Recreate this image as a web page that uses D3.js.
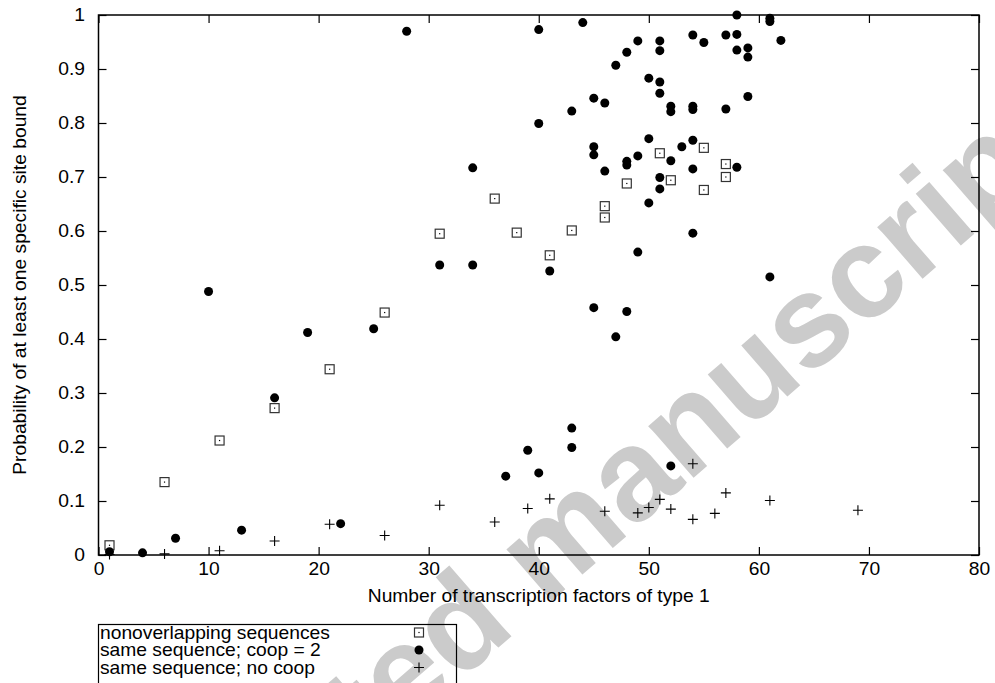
<!DOCTYPE html>
<html>
<head>
<meta charset="utf-8">
<script src="https://cdn.jsdelivr.net/npm/d3@7"></script>
<style>
  body { margin: 0; background: #fff; }
  text { font-family: "Liberation Sans", Arial, sans-serif; }
</style>
</head>
<body>
<div id="chart"></div>
<script>
// series
var nonoverlapX = [1, 6, 11, 16, 21, 26, 31, 36, 38, 41, 43, 46, 46, 48, 51, 52, 55, 55, 57, 57];
var nonoverlapY = [0.018, 0.135, 0.212, 0.272, 0.344, 0.449, 0.595, 0.660, 0.597, 0.555, 0.601, 0.646, 0.625, 0.688, 0.744, 0.694, 0.754, 0.676, 0.724, 0.700];

var coopX = [1, 4, 7, 10, 13, 16, 19, 22, 25, 28, 31, 34, 34, 37, 39, 40, 40, 40, 41, 43, 43, 43,
    44, 45, 45, 45, 45, 46, 46, 47, 47, 48, 48, 48, 48, 49, 49, 49, 50, 50, 50,
    51, 51, 51, 51, 51, 51, 52, 52, 52, 52, 53, 54, 54, 54, 54, 54, 54, 55, 57, 57,
    58, 58, 58, 58, 59, 59, 59, 61, 61, 61, 62];
var coopY = [0.006, 0.004, 0.031, 0.488, 0.046, 0.291, 0.412, 0.058, 0.419, 0.970, 0.537, 0.717, 0.537, 0.146, 0.194, 0.973, 0.799, 0.152, 0.526, 0.822, 0.235, 0.199,
    0.986, 0.846, 0.756, 0.741, 0.458, 0.837, 0.711, 0.907, 0.404, 0.931, 0.729, 0.722, 0.451, 0.952, 0.739, 0.561, 0.883, 0.771, 0.652,
    0.952, 0.934, 0.876, 0.855, 0.699, 0.678, 0.831, 0.821, 0.730, 0.165, 0.756, 0.963, 0.831, 0.825, 0.768, 0.715, 0.596, 0.949, 0.963, 0.826,
    1.0, 0.964, 0.935, 0.718, 0.939, 0.922, 0.849, 0.994, 0.988, 0.515, 0.953];

var nocoopX = [1, 6, 11, 16, 21, 26, 31, 36, 39, 41, 46, 49, 50, 51, 52, 54, 54, 56, 57, 61, 69];
var nocoopY = [0.001, 0.002, 0.008, 0.026, 0.057, 0.036, 0.092, 0.061, 0.086, 0.104, 0.081, 0.078, 0.088, 0.103, 0.085, 0.169, 0.066, 0.077, 0.115, 0.101, 0.083];

var xTicks = [0, 10, 20, 30, 40, 50, 60, 70, 80];
var yTicks = [0, 0.1, 0.2, 0.3, 0.4, 0.5, 0.6, 0.7, 0.8, 0.9, 1];
var legendLabels = ["nonoverlapping sequences", "same sequence; coop = 2", "same sequence; no coop"];

var width = 995, height = 683;
var margin = { left: 98.5, right: 16, top: 15, bottom: 128 };
var fontSize = "17.5px";
var stretch = "scale(1.1,1)";   // the original's lettering is a little wide

var svg = d3.select("#chart").append("svg")
    .attr("width", width)
    .attr("height", height);

// watermark behind everything
var wm = svg.append("g")
    .attr("transform", "translate(545,607) rotate(-41)")
    .attr("fill", "#cbcbcb")
    .style("font-weight", "bold")
    .style("font-size", "130px");
wm.append("text").attr("x", -36).attr("text-anchor", "end").text("Accepted");
wm.append("text").attr("x", 0).text("manuscript");

var x = d3.scaleLinear().domain([0, 80]).range([margin.left, width - margin.right]);
var y = d3.scaleLinear().domain([0, 1]).range([height - margin.bottom, margin.top]);

var fmt = function (d) { return String(+d.toFixed(1)); };

function styleAxis(g) {
    g.select(".domain").remove();
    g.selectAll(".tick line").attr("stroke", "#000").attr("stroke-width", 1.2);
    g.selectAll(".tick text").attr("fill", "#000").style("font-size", fontSize);
}

svg.append("g")
    .attr("transform", "translate(0," + y(0) + ")")
    .call(d3.axisBottom(x).tickValues(xTicks).tickFormat(fmt).tickSize(-8).tickPadding(7.5))
    .call(styleAxis)
    .selectAll(".tick text").attr("transform", stretch);
svg.append("g")
    .attr("transform", "translate(0," + y(1) + ")")
    .call(d3.axisTop(x).tickValues(xTicks).tickFormat("").tickSize(-8))
    .call(styleAxis);
svg.append("g")
    .attr("transform", "translate(" + x(0) + ",0)")
    .call(d3.axisLeft(y).tickValues(yTicks).tickFormat(fmt).tickSize(-8))
    .call(styleAxis)
    .selectAll(".tick text").attr("x", 0).attr("transform", "translate(-13.5,0) " + stretch);
svg.append("g")
    .attr("transform", "translate(" + x(80) + ",0)")
    .call(d3.axisRight(y).tickValues(yTicks).tickFormat("").tickSize(-8))
    .call(styleAxis);

svg.append("rect")
    .attr("x", x(0)).attr("y", y(1))
    .attr("width", x(80) - x(0)).attr("height", y(0) - y(1))
    .attr("fill", "none").attr("stroke", "#000").attr("stroke-width", 1.5);

svg.append("text")
    .attr("transform", "translate(" + (x(0) + x(80)) / 2 + ",602) " + stretch)
    .attr("text-anchor", "middle").style("font-size", fontSize)
    .text("Number of transcription factors of type 1");

svg.append("text")
    .attr("transform", "translate(26," + y(0.5) + ") rotate(-90) " + stretch)
    .attr("text-anchor", "middle").style("font-size", fontSize)
    .text("Probability of at least one specific site bound");

// marker painters
function drawSquare(g, cx, cy) {
    g.append("rect").attr("x", cx - 4.5).attr("y", cy - 4.5).attr("width", 9).attr("height", 9)
        .attr("fill", "none").attr("stroke", "#333").attr("stroke-width", 1.2);
    g.append("rect").attr("x", cx - 0.6).attr("y", cy - 0.6).attr("width", 1.2).attr("height", 1.2)
        .attr("fill", "#000");
}
function drawCircle(g, cx, cy) {
    g.append("circle").attr("cx", cx).attr("cy", cy).attr("r", 4.5).attr("fill", "#000");
}
function drawCross(g, cx, cy) {
    g.append("path").attr("d", "M" + (cx - 5) + "," + cy + "H" + (cx + 5) + "M" + cx + "," + (cy - 5) + "V" + (cy + 5))
        .attr("stroke", "#000").attr("stroke-width", 1.1).attr("fill", "none");
}

var gSq = svg.append("g");
nonoverlapX.forEach(function (d, i) { drawSquare(gSq, x(d), y(nonoverlapY[i])); });
var gCi = svg.append("g");
coopX.forEach(function (d, i) { drawCircle(gCi, x(d), y(coopY[i])); });
var gCr = svg.append("g");
nocoopX.forEach(function (d, i) { drawCross(gCr, x(d), y(nocoopY[i])); });

// legend
svg.append("rect")
    .attr("x", 98.5).attr("y", 624.5).attr("width", 358).attr("height", 60)
    .attr("fill", "none").attr("stroke", "#000").attr("stroke-width", 1.2);
var painters = [drawSquare, drawCircle, drawCross];
legendLabels.forEach(function (label, i) {
    var ly = 638.5 + i * 17.5;
    svg.append("text")
        .attr("transform", "translate(100," + ly + ") " + stretch)
        .style("font-size", fontSize).text(label);
    painters[i](svg, 419, ly - 6);
});
</script>
</body>
</html>
